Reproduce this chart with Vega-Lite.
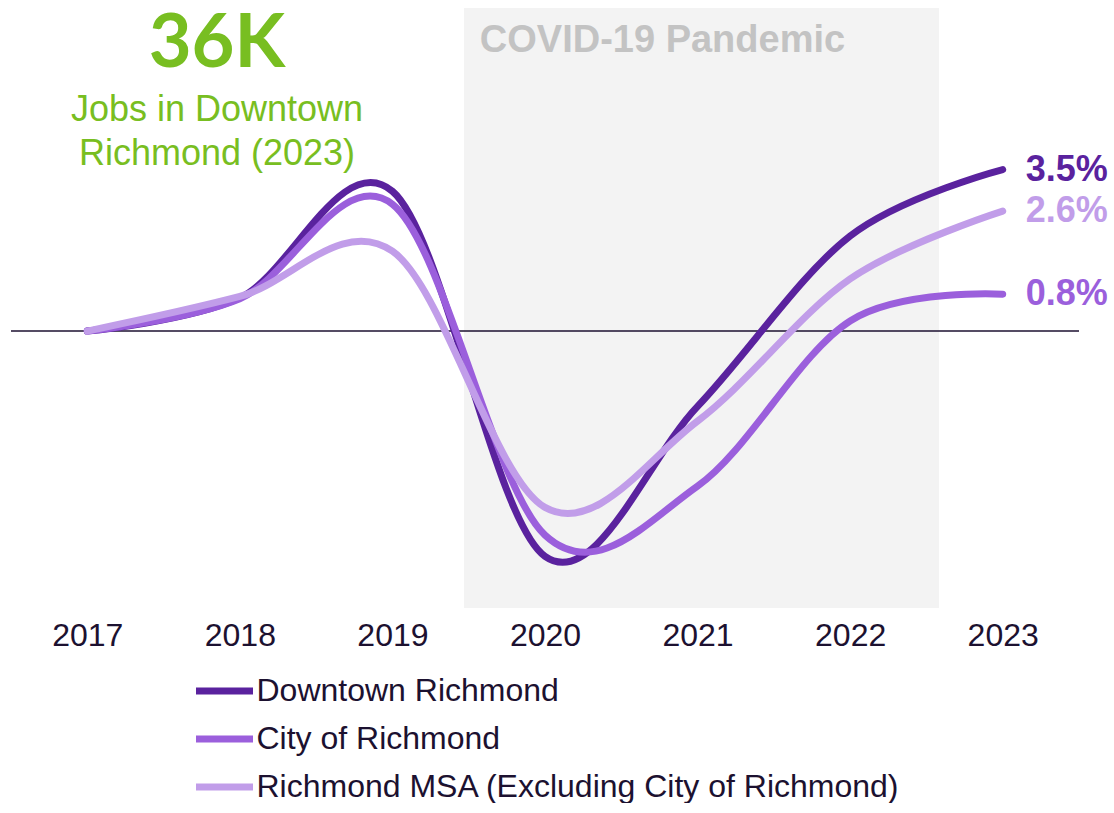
{
"$schema": "https://vega.github.io/schema/vega-lite/v6.json",
"width": 1068,
"height": 600,
"padding": {"left": 10, "top": 7, "right": 0, "bottom": 0},
"background": "white",
"config": {"view": {"stroke": null}, "font": "Liberation Sans"},
"data": {"values": [
{"series": "Downtown Richmond", "year": 2017, "value": 0},
{"series": "Downtown Richmond", "year": 2018, "value": 0.0072},
{"series": "Downtown Richmond", "year": 2019, "value": 0.0303},
{"series": "Downtown Richmond", "year": 2020, "value": -0.0488},
{"series": "Downtown Richmond", "year": 2021, "value": -0.0163},
{"series": "Downtown Richmond", "year": 2022, "value": 0.0206},
{"series": "Downtown Richmond", "year": 2023, "value": 0.035},
{"series": "City of Richmond", "year": 2017, "value": 0},
{"series": "City of Richmond", "year": 2018, "value": 0.007},
{"series": "City of Richmond", "year": 2019, "value": 0.0275},
{"series": "City of Richmond", "year": 2020, "value": -0.0442},
{"series": "City of Richmond", "year": 2021, "value": -0.0336},
{"series": "City of Richmond", "year": 2022, "value": 0.0022},
{"series": "City of Richmond", "year": 2023, "value": 0.008},
{"series": "Richmond MSA (Excluding City of Richmond)", "year": 2017, "value": 0},
{"series": "Richmond MSA (Excluding City of Richmond)", "year": 2018, "value": 0.0075},
{"series": "Richmond MSA (Excluding City of Richmond)", "year": 2019, "value": 0.0173},
{"series": "Richmond MSA (Excluding City of Richmond)", "year": 2020, "value": -0.0382},
{"series": "Richmond MSA (Excluding City of Richmond)", "year": 2021, "value": -0.0195},
{"series": "Richmond MSA (Excluding City of Richmond)", "year": 2022, "value": 0.0113},
{"series": "Richmond MSA (Excluding City of Richmond)", "year": 2023, "value": 0.026}
]},
"layer": [
{
"mark": {"type": "rect", "fill": "#f3f3f3"},
"encoding": {
"x": {"datum": 2019.47, "type": "quantitative", "scale": {"domain": [2016.5, 2023.5], "nice": false, "zero": false},
"axis": {"values": [2017, 2018, 2019, 2020, 2021, 2022, 2023], "format": "d", "title": null, "grid": false, "domain": false, "ticks": false, "labelFontSize": 32, "labelColor": "#1c1130", "labelFont": "Liberation Sans", "labelPadding": 12, "labelFlush": false}},
"x2": {"datum": 2022.58},
"y": {"datum": -0.06, "type": "quantitative", "scale": {"domain": [-0.06, 0.07], "nice": false, "zero": false}, "axis": null},
"y2": {"datum": 0.07}
}
},
{
"mark": {"type": "rule", "color": "#1c1130", "strokeWidth": 1.5},
"encoding": {
"x": {"datum": 2016.5, "type": "quantitative",
"axis": {"values": [2017, 2018, 2019, 2020, 2021, 2022, 2023], "format": "d", "title": null, "grid": false, "domain": false, "ticks": false, "labelFontSize": 32, "labelColor": "#1c1130", "labelFont": "Liberation Sans", "labelPadding": 12, "labelFlush": false}},
"x2": {"datum": 2023.5},
"y": {"datum": 0, "type": "quantitative", "axis": null},
"opacity": {"condition": {"test": "datum.year === 2017 && datum.series === 'Downtown Richmond'", "value": 1}, "value": 0}
}
},
{
"mark": {"type": "line", "interpolate": "cardinal", "tension": 0, "strokeWidth": 7, "strokeCap": "round", "strokeJoin": "round"},
"encoding": {
"x": {"field": "year", "type": "quantitative", "scale": {"domain": [2016.5, 2023.5], "nice": false, "zero": false},
"axis": {"values": [2017, 2018, 2019, 2020, 2021, 2022, 2023], "format": "d", "title": null, "grid": false, "domain": false, "ticks": false, "labelFontSize": 32, "labelColor": "#1c1130", "labelFont": "Liberation Sans", "labelPadding": 12, "labelFlush": false}},
"y": {"field": "value", "type": "quantitative", "scale": {"domain": [-0.06, 0.07], "nice": false, "zero": false}, "axis": null},
"color": {"field": "series", "type": "nominal",
"scale": {"domain": ["Downtown Richmond", "City of Richmond", "Richmond MSA (Excluding City of Richmond)"], "range": ["#5a229e", "#9b5fdc", "#c19de9"]},
"legend": {"orient": "none", "legendX": 181.5, "legendY": 651, "direction": "vertical", "title": null, "symbolType": "stroke", "symbolSize": 3249, "symbolStrokeWidth": 7, "labelFontSize": 32, "labelColor": "#1c1130", "labelFont": "Liberation Sans", "labelLimit": 1000, "rowPadding": -6, "labelOffset": 0}}
}
},
{
"mark": {"type": "text", "align": "left", "baseline": "middle", "dx": 23, "fontSize": 36, "fontWeight": "bold", "font": "Liberation Sans"},
"encoding": {
"x": {"field": "year", "type": "quantitative",
"axis": {"values": [2017, 2018, 2019, 2020, 2021, 2022, 2023], "format": "d", "title": null, "grid": false, "domain": false, "ticks": false, "labelFontSize": 32, "labelColor": "#1c1130", "labelFont": "Liberation Sans", "labelPadding": 12, "labelFlush": false}},
"y": {"field": "value", "type": "quantitative", "axis": null},
"text": {"field": "value", "type": "quantitative", "format": ".1%"},
"color": {"field": "series", "type": "nominal"},
"opacity": {"condition": {"test": "datum.year === 2023", "value": 1}, "value": 0}
}
},
{
"mark": {"type": "text", "align": "center", "baseline": "alphabetic", "fontSize": 74, "fontWeight": "bold", "font": "Lato", "color": "#78be21"},
"encoding": {
"x": {"datum": 2017.85, "type": "quantitative",
"axis": {"values": [2017, 2018, 2019, 2020, 2021, 2022, 2023], "format": "d", "title": null, "grid": false, "domain": false, "ticks": false, "labelFontSize": 32, "labelColor": "#1c1130", "labelFont": "Liberation Sans", "labelPadding": 12, "labelFlush": false}},
"y": {"datum": 0.05722, "type": "quantitative", "axis": null},
"text": {"value": "36K"},
"opacity": {"condition": {"test": "datum.year === 2017 && datum.series === 'Downtown Richmond'", "value": 1}, "value": 0}
}
},
{
"mark": {"type": "text", "align": "center", "baseline": "alphabetic", "fontSize": 36, "font": "Liberation Sans", "color": "#78be21"},
"encoding": {
"x": {"datum": 2017.85, "type": "quantitative",
"axis": {"values": [2017, 2018, 2019, 2020, 2021, 2022, 2023], "format": "d", "title": null, "grid": false, "domain": false, "ticks": false, "labelFontSize": 32, "labelColor": "#1c1130", "labelFont": "Liberation Sans", "labelPadding": 12, "labelFlush": false}},
"y": {"datum": 0.04551, "type": "quantitative", "axis": null},
"text": {"value": "Jobs in Downtown"},
"opacity": {"condition": {"test": "datum.year === 2017 && datum.series === 'Downtown Richmond'", "value": 1}, "value": 0}
}
},
{
"mark": {"type": "text", "align": "center", "baseline": "alphabetic", "fontSize": 36, "font": "Liberation Sans", "color": "#78be21"},
"encoding": {
"x": {"datum": 2017.85, "type": "quantitative",
"axis": {"values": [2017, 2018, 2019, 2020, 2021, 2022, 2023], "format": "d", "title": null, "grid": false, "domain": false, "ticks": false, "labelFontSize": 32, "labelColor": "#1c1130", "labelFont": "Liberation Sans", "labelPadding": 12, "labelFlush": false}},
"y": {"datum": 0.03598, "type": "quantitative", "axis": null},
"text": {"value": "Richmond (2023)"},
"opacity": {"condition": {"test": "datum.year === 2017 && datum.series === 'Downtown Richmond'", "value": 1}, "value": 0}
}
},
{
"mark": {"type": "text", "align": "center", "baseline": "alphabetic", "fontSize": 38, "fontWeight": "bold", "font": "Liberation Sans", "color": "#c3c3c3"},
"encoding": {
"x": {"datum": 2020.77, "type": "quantitative",
"axis": {"values": [2017, 2018, 2019, 2020, 2021, 2022, 2023], "format": "d", "title": null, "grid": false, "domain": false, "ticks": false, "labelFontSize": 32, "labelColor": "#1c1130", "labelFont": "Liberation Sans", "labelPadding": 12, "labelFlush": false}},
"y": {"datum": 0.06036, "type": "quantitative", "axis": null},
"text": {"value": "COVID-19 Pandemic"},
"opacity": {"condition": {"test": "datum.year === 2017 && datum.series === 'Downtown Richmond'", "value": 1}, "value": 0}
}
}
]
}
